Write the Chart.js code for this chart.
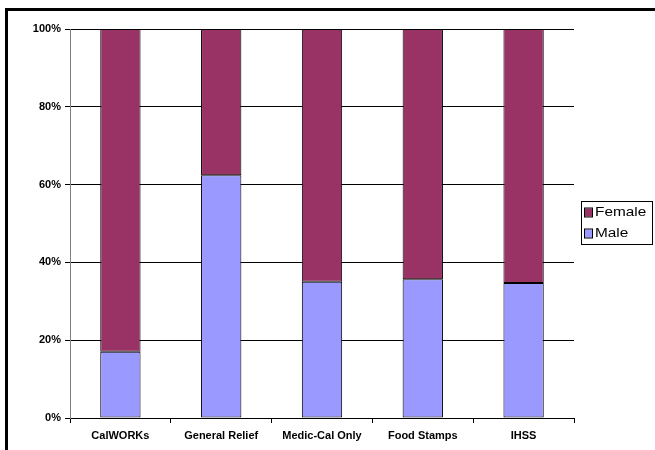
<!DOCTYPE html>
<html>
<head>
<meta charset="utf-8">
<script src="https://cdn.jsdelivr.net/npm/chart.js@4.4.1/dist/chart.umd.min.js"></script>
<style>
  html, body { margin: 0; padding: 0; background: #ffffff; }
  #wrap { width: 655px; height: 450px; position: relative; }
</style>
</head>
<body>
<div id="wrap"><canvas id="chart" width="655" height="450"></canvas></div>
<script>
// Program caseload split by gender (percent of cases)
const categories = ['CalWORKs', 'General Relief', 'Medic-Cal Only', 'Food Stamps', 'IHSS'];
const maleShare = [17.0, 62.4, 35.0, 35.7, 34.7];
const femaleShare = [83.0, 37.6, 65.0, 64.3, 65.3];
const percentTicks = [0, 20, 40, 60, 80, 100];

const FONT = 'Arial, "Liberation Sans", sans-serif';
Chart.defaults.font.family = FONT;
Chart.defaults.color = '#000000';

// Heavy frame along the top and left edges of the picture
const framePlugin = {
  id: 'frame',
  beforeDraw(chart) {
    const ctx = chart.ctx;
    ctx.save();
    ctx.fillStyle = '#ffffff';
    ctx.fillRect(0, 0, chart.width, chart.height);
    ctx.fillStyle = '#000000';
    ctx.fillRect(5, 8, chart.width - 5, 3);
    ctx.fillRect(5, 8, 3, chart.height - 8);
    ctx.restore();
  }
};

// Boxed legend on the right, series listed top-down as stacked
const boxLegendPlugin = {
  id: 'boxLegend',
  afterDraw(chart) {
    const ctx = chart.ctx;
    const box = { x: 581.5, y: 201.5, w: 71, h: 43 };
    ctx.save();
    ctx.strokeStyle = '#000000';
    ctx.lineWidth = 1;
    ctx.strokeRect(box.x, box.y, box.w, box.h);
    const sets = chart.data.datasets.slice().reverse();
    sets.forEach((ds, i) => {
      const cy = 212.5 + i * 21;
      ctx.fillStyle = ds.backgroundColor;
      ctx.fillRect(585, cy - 4, 7, 8);
      ctx.strokeStyle = '#000000';
      ctx.strokeRect(584.5, cy - 4.5, 8, 9);
      // wide-set label text
      ctx.save();
      ctx.translate(595, cy);
      ctx.scale(1.28, 1);
      ctx.font = '12px ' + FONT;
      ctx.textBaseline = 'middle';
      ctx.textAlign = 'left';
      ctx.fillStyle = '#000000';
      ctx.fillText(ds.label, 0, 0.5);
      ctx.restore();
    });
    ctx.restore();
  }
};

new Chart(document.getElementById('chart'), {
  type: 'bar',
  data: {
    labels: categories,
    datasets: [
      {
        label: 'Male',
        data: maleShare,
        backgroundColor: '#9999ff',
        borderColor: '#000000',
        borderWidth: 1,
        borderSkipped: false,
        barPercentage: 0.4,
        categoryPercentage: 1.0
      },
      {
        label: 'Female',
        data: femaleShare,
        backgroundColor: '#993366',
        borderColor: '#000000',
        borderWidth: 1,
        borderSkipped: false,
        barPercentage: 0.4,
        categoryPercentage: 1.0
      }
    ]
  },
  options: {
    responsive: false,
    animation: false,
    layout: { padding: { top: 29, right: 81, left: 0, bottom: 0 } },
    plugins: {
      legend: { display: false },
      tooltip: { enabled: false }
    },
    scales: {
      x: {
        stacked: true,
        offset: true,
        grid: {
          display: true,
          offset: true,
          drawOnChartArea: false,
          drawTicks: true,
          tickLength: 5,
          color: '#000000'
        },
        border: { display: true, color: '#000000', width: 1 },
        ticks: {
          font: { size: 11, weight: 'bold' },
          padding: 6,
          maxRotation: 0,
          autoSkip: false
        },
        afterFit(scale) { scale.height = 32; }
      },
      y: {
        stacked: true,
        min: 0,
        max: 100,
        afterBuildTicks(scale) {
          scale.ticks = percentTicks.map(v => ({ value: v }));
        },
        grid: {
          color: '#000000',
          lineWidth: 1,
          drawTicks: true,
          tickLength: 5
        },
        border: { display: true, color: '#808080', width: 1 },
        ticks: {
          font: { size: 11, weight: 'bold' },
          padding: 4,
          callback: v => v + '%'
        },
        afterFit(scale) { scale.width = 70; }
      }
    }
  },
  plugins: [framePlugin, boxLegendPlugin]
});
</script>
</body>
</html>
